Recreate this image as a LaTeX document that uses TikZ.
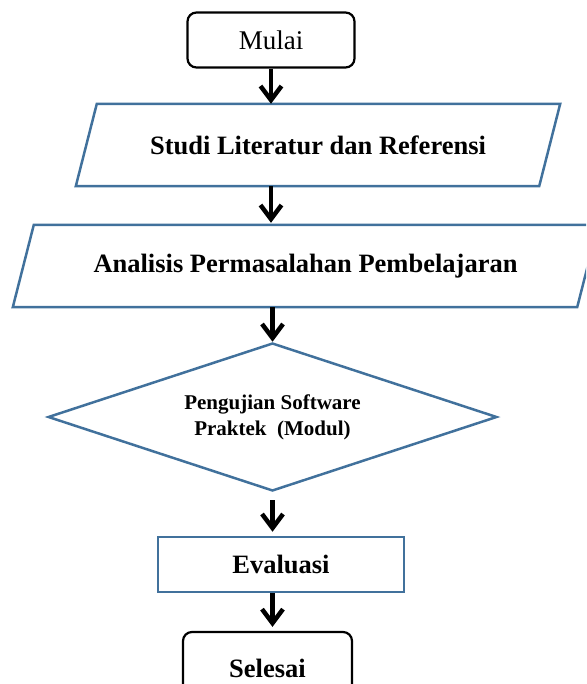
\documentclass[tikz,border=0pt]{standalone}
\usepackage{fontspec}
\setmainfont{Liberation Serif}
\usetikzlibrary{shapes.geometric,arrows.meta}
\definecolor{boxblue}{RGB}{65,113,156}
\begin{document}
\begin{tikzpicture}[x=1pt,y=-1pt,
  rbox/.style={draw=black,line width=2.2pt,rounded corners=9pt,inner sep=0pt},
  bigtext/.style={font=\bfseries\fontsize{26.5}{30}\selectfont},
  pbox/.style={inner sep=0pt,bigtext},
  bbox/.style={draw=boxblue,line width=2.5pt,inner sep=0pt},
  par/.style={draw=boxblue,line width=2.5pt,line join=miter},
  arr/.style={line width=4.5pt,-{Straight Barb[length=14pt,width=21pt]}},
]
\useasboundingbox (0,0) rectangle (586,684);
\clip (0,0) rectangle (586,684);

\node[rbox,minimum width=167pt,minimum height=55pt,font=\fontsize{27}{30}\selectfont] (mulai) at (271,40) {Mulai};

\node[pbox,minimum width=463pt,minimum height=82pt] (s1) at (318,145) {\raisebox{-3pt}{Studi Literatur dan Referensi}};
\draw[par] ([xshift=10.5pt]s1.north west) -- ([xshift=10.5pt]s1.north east) -- ([xshift=-10.5pt]s1.south east) -- ([xshift=-10.5pt]s1.south west) -- cycle;

\node[pbox,minimum width=564pt,minimum height=82pt] (s2) at (305.5,266) {\raisebox{-4pt}{Analisis Permasalahan Pembelajaran}};
\draw[par] ([xshift=10.5pt]s2.north west) -- ([xshift=10.5pt]s2.north east) -- ([xshift=-10.5pt]s2.south east) -- ([xshift=-10.5pt]s2.south west) -- cycle;

\node[diamond,draw=boxblue,line width=2.5pt,aspect=3,minimum width=449pt,minimum height=148pt,inner sep=0pt,align=center,font=\bfseries\fontsize{21}{26}\selectfont] (d) at (272.5,417) {Pengujian Software\\Praktek\ \ (Modul)};

\node[bbox,minimum width=246pt,minimum height=55pt,bigtext] (e) at (281,564.5) {Evaluasi};

\node[rbox,minimum width=169pt,minimum height=72pt,bigtext] (sel) at (267.5,668) {Selesai};

\draw[arr] (mulai) -- (mulai |- s1.north);
\draw[arr,shorten >=2pt] (mulai |- s1.south) -- (mulai |- s2.north);
\draw[arr] (d |- s2.south) -- (d);
\draw[arr,shorten <=8pt,shorten >=4pt] (d) -- (d |- e.north);
\draw[arr,shorten >=4pt] (d |- e.south) -- (d |- sel.north);
\end{tikzpicture}
\end{document}
